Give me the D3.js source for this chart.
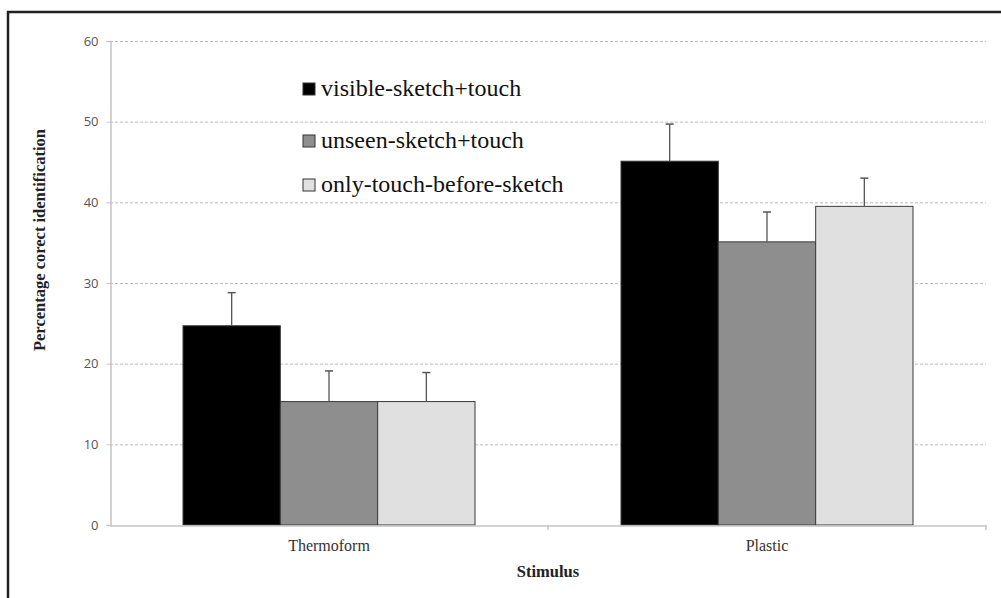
<!DOCTYPE html>
<html>
<head>
<meta charset="utf-8">
<script src="https://cdn.jsdelivr.net/npm/d3@7"></script>
<style>
  body { margin: 0; background: #fff; }
  svg { display: block; }
</style>
</head>
<body>
<script>
// data
var categories = ["Thermoform", "Plastic"]
var seriesNames = ["visible-sketch+touch", "unseen-sketch+touch", "only-touch-before-sketch"]
var visible = [24.7, 45.1]
var unseen = [15.3, 35.1]
var onlyTouch = [15.3, 39.5]
var visibleErr = [4.1, 4.6]
var unseenErr = [3.8, 3.7]
var onlyTouchErr = [3.6, 3.5]
var yTicks = [0, 10, 20, 30, 40, 50, 60]

var colors = ["#000000", "#8e8e8e", "#e0e0e0"]
var values = [visible, unseen, onlyTouch]
var errs = [visibleErr, unseenErr, onlyTouchErr]

var width = 1001, height = 598
var margin = { left: 110, right: 15, top: 41, bottom: 73 }
var serif = "'Liberation Serif', 'Times New Roman', serif"

var svg = d3.select("body").append("svg")
  .attr("width", width)
  .attr("height", height)

// outer frame (top and left visible only)
svg.append("path")
  .attr("d", "M8,598 L8,12 L1001,12")
  .attr("fill", "none")
  .attr("stroke", "#222")
  .attr("stroke-width", 2.5)

var y = d3.scaleLinear().domain([0, 60]).range([height - margin.bottom, margin.top])
var x0 = d3.scaleBand().domain(categories).range([margin.left, width - margin.right]).padding(0)
var x1 = d3.scaleBand().domain(seriesNames)
  .range([x0.bandwidth() / 6, x0.bandwidth() * 5 / 6]).padding(0)

// grid lines
svg.append("g").selectAll("line")
  .data(yTicks.filter(function(d) { return d > 0 }))
  .enter().append("line")
  .attr("x1", margin.left)
  .attr("x2", width - margin.right)
  .attr("y1", function(d) { return y(d) + 0.5 })
  .attr("y2", function(d) { return y(d) + 0.5 })
  .attr("stroke", "#bdbdbd")
  .attr("stroke-width", 1)
  .attr("stroke-dasharray", "3,2")

// y axis
var yAxis = svg.append("g")
  .attr("transform", "translate(" + (margin.left + 0.5) + ",0)")
  .call(d3.axisLeft(y).tickValues(yTicks).tickSize(4).tickPadding(8))
yAxis.select(".domain").attr("stroke", "#c4c4c4").attr("stroke-width", 1.5)
yAxis.selectAll(".tick line").attr("stroke", "#c4c4c4")
yAxis.selectAll(".tick text")
  .style("font-family", "'Open Sans', sans-serif")
  .style("font-size", "13px")
  .attr("fill", "#555")

// bars
var groups = svg.append("g").selectAll("g")
  .data(categories)
  .enter().append("g")
  .attr("transform", function(d) { return "translate(" + x0(d) + ",0)" })

seriesNames.forEach(function(s, si) {
  groups.append("rect")
    .attr("x", function(d, ci) { return x1(s) })
    .attr("y", function(d, ci) { return y(values[si][ci]) })
    .attr("width", x1.bandwidth())
    .attr("height", function(d, ci) { return y(0) - y(values[si][ci]) })
    .attr("fill", colors[si])
    .attr("stroke", "#3a3a3a")
    .attr("stroke-width", 1)
})

// error bars
seriesNames.forEach(function(s, si) {
  var cx = function() { return x1(s) + x1.bandwidth() / 2 }
  groups.append("line")
    .attr("x1", cx).attr("x2", cx)
    .attr("y1", function(d, ci) { return y(values[si][ci]) })
    .attr("y2", function(d, ci) { return y(values[si][ci] + errs[si][ci]) })
    .attr("stroke", "#555")
    .attr("stroke-width", 1.3)
  groups.append("line")
    .attr("x1", function() { return cx() - 4 })
    .attr("x2", function() { return cx() + 4 })
    .attr("y1", function(d, ci) { return y(values[si][ci] + errs[si][ci]) })
    .attr("y2", function(d, ci) { return y(values[si][ci] + errs[si][ci]) })
    .attr("stroke", "#555")
    .attr("stroke-width", 1.5)
})

// x axis
var xAxis = svg.append("g")
  .attr("transform", "translate(0," + (y(0) + 0.5) + ")")
  .call(d3.axisBottom(x0).tickSize(0).tickPadding(14))
xAxis.select(".domain").attr("stroke", "#c4c4c4").attr("stroke-width", 1.5)
xAxis.selectAll(".tick text")
  .style("font-family", serif)
  .style("font-size", "16px")
  .attr("fill", "#333")
// tick marks between categories and at the end
svg.append("g").selectAll("line")
  .data(categories)
  .enter().append("line")
  .attr("x1", function(d) { return x0(d) + x0.bandwidth() })
  .attr("x2", function(d) { return x0(d) + x0.bandwidth() })
  .attr("y1", y(0))
  .attr("y2", y(0) + 5)
  .attr("stroke", "#c4c4c4")
  .attr("stroke-width", 1.5)

// axis titles
svg.append("text")
  .attr("x", (margin.left + width - margin.right) / 2)
  .attr("y", 577)
  .attr("text-anchor", "middle")
  .style("font-family", serif)
  .style("font-size", "16.5px")
  .style("font-weight", "bold")
  .attr("fill", "#222")
  .text("Stimulus")

svg.append("text")
  .attr("transform", "translate(45,240) rotate(-90)")
  .attr("text-anchor", "middle")
  .style("font-family", serif)
  .style("font-size", "16.5px")
  .style("font-weight", "bold")
  .attr("fill", "#222")
  .text("Percentage corect identification")

// legend
var legendY = [83, 135, 179]
var legend = svg.append("g").selectAll("g")
  .data(seriesNames)
  .enter().append("g")
  .attr("transform", function(d, i) { return "translate(303," + legendY[i] + ")" })
legend.append("rect")
  .attr("width", 12).attr("height", 12)
  .attr("fill", function(d, i) { return colors[i] })
  .attr("stroke", "#333")
  .attr("stroke-width", 1)
legend.append("text")
  .attr("x", 18)
  .attr("y", 13)
  .style("font-family", serif)
  .style("font-size", "24px")
  .attr("fill", "#111")
  .text(function(d) { return d })
</script>
</body>
</html>
